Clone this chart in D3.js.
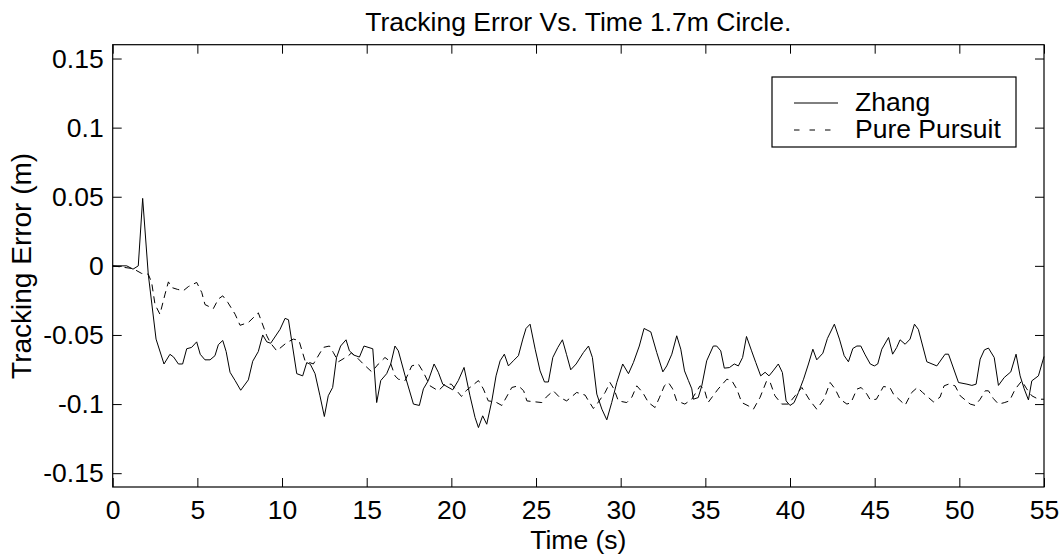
<!DOCTYPE html>
<html><head><meta charset="utf-8">
<script src="https://cdn.jsdelivr.net/npm/d3@7"></script>
<style>
body{margin:0;background:#fff}
text{font-family:Arial,"Liberation Sans",sans-serif;fill:#000}
</style>
</head><body>
<svg id="chart" width="1062" height="557"></svg>
<script>
const titleText = "Tracking Error Vs. Time 1.7m Circle.";
const xLabelText = "Time (s)";
const yLabelText = "Tracking Error (m)";
const seriesNames = ["Zhang", "Pure Pursuit"];
const xTicks = [0,5,10,15,20,25,30,35,40,45,50,55];
const yTicks = [-0.15,-0.1,-0.05,0,0.05,0.1,0.15];
const yTickLabels = ["-0.15","-0.1","-0.05","0","0.05","0.1","0.15"];

const zhangTime = [0,0.83,1.2,1.51,1.77,2.1,2.56,3.03,3.38,3.6,3.88,4.13,4.37,4.66,4.96,5.17,5.45,5.75,6.04,6.24,6.5,6.7,6.93,7.23,7.56,8.01,8.27,8.6,8.86,9.1,9.33,9.88,10.18,10.38,10.87,11.22,11.46,11.67,11.95,12.24,12.5,12.73,12.99,13.22,13.46,13.78,13.98,14.25,14.57,14.84,15.36,15.59,15.83,16.18,16.42,16.67,16.87,17.27,17.76,18.11,18.35,18.64,18.98,19.23,19.49,20.08,20.41,20.75,21.1,21.4,21.6,21.85,22.09,22.39,22.64,22.88,23.13,23.37,23.66,23.96,24.22,24.41,24.65,24.95,25.24,25.5,25.73,25.99,26.29,26.56,26.8,27.05,27.37,27.8,28.1,28.33,28.59,28.89,29.18,29.47,29.77,30.12,30.46,30.75,31.1,31.38,31.78,32.13,32.49,32.72,33.02,33.31,33.55,33.77,34.0,34.2,34.29,34.58,34.79,35.08,35.47,35.67,35.91,36.12,36.42,36.71,36.95,37.2,37.43,37.73,37.98,38.27,38.53,38.76,39.0,39.31,39.55,39.77,40.0,40.24,40.5,40.8,41.09,41.35,41.58,41.94,42.21,42.62,42.92,43.2,43.45,43.71,43.95,44.18,44.44,44.74,44.98,45.18,45.42,45.82,46.06,46.3,46.5,46.8,47.09,47.35,47.58,48.08,48.67,49.16,49.36,49.95,50.45,50.74,50.99,51.23,51.48,51.72,52.06,52.31,52.65,53.04,53.35,53.59,53.83,54.08,54.28,54.67,55.0];
const zhangError = [0,0,-0.0024,0,0.0488,-0.006,-0.053,-0.071,-0.064,-0.066,-0.071,-0.071,-0.060,-0.059,-0.055,-0.064,-0.068,-0.068,-0.065,-0.057,-0.054,-0.062,-0.077,-0.083,-0.090,-0.0825,-0.069,-0.062,-0.050,-0.055,-0.056,-0.046,-0.038,-0.039,-0.078,-0.0796,-0.070,-0.0712,-0.078,-0.094,-0.109,-0.094,-0.088,-0.0663,-0.058,-0.0535,-0.0615,-0.0646,-0.066,-0.058,-0.060,-0.0989,-0.083,-0.078,-0.071,-0.058,-0.0615,-0.0796,-0.100,-0.101,-0.089,-0.083,-0.071,-0.077,-0.0856,-0.0897,-0.083,-0.0735,-0.094,-0.1097,-0.117,-0.1085,-0.1146,-0.0977,-0.0796,-0.0687,-0.0639,-0.0724,-0.0687,-0.065,-0.053,-0.0453,-0.0422,-0.0603,-0.076,-0.084,-0.084,-0.0663,-0.059,-0.0535,-0.064,-0.0752,-0.071,-0.0627,-0.058,-0.0663,-0.0928,-0.1037,-0.1114,-0.0989,-0.0844,-0.071,-0.078,-0.070,-0.058,-0.0453,-0.0478,-0.0627,-0.0767,-0.0724,-0.0639,-0.0506,-0.0603,-0.076,-0.083,-0.089,-0.0965,-0.0953,-0.0868,-0.0687,-0.058,-0.058,-0.0615,-0.074,-0.0736,-0.071,-0.0724,-0.0663,-0.0511,-0.0615,-0.070,-0.0796,-0.077,-0.0796,-0.076,-0.071,-0.0772,-0.0977,-0.101,-0.099,-0.0916,-0.082,-0.071,-0.0603,-0.068,-0.0632,-0.0525,-0.0422,-0.053,-0.065,-0.0694,-0.0598,-0.058,-0.058,-0.0644,-0.071,-0.0724,-0.071,-0.0603,-0.0518,-0.0639,-0.0591,-0.0535,-0.0567,-0.053,-0.0422,-0.046,-0.0694,-0.0724,-0.0639,-0.0639,-0.0844,-0.0856,-0.0865,-0.0856,-0.0675,-0.0608,-0.0595,-0.0663,-0.0865,-0.0808,-0.0767,-0.0639,-0.0796,-0.089,-0.097,-0.0832,-0.0796,-0.0656];

const pursuitTime = [0,1.2,1.71,2.1,2.3,2.5,2.79,3.09,3.29,3.49,3.82,4.17,4.47,4.96,5.26,5.45,5.94,6.24,6.5,6.8,7.23,7.52,8.01,8.6,9.1,9.33,9.69,10.28,10.67,11.0,11.36,11.85,12.44,12.8,13.03,13.33,13.92,14.1,14.4,14.8,15.3,15.69,16.08,16.37,16.67,16.87,17.27,17.66,18.05,18.35,18.74,19.23,19.63,20.0,20.32,20.6,20.9,21.2,21.6,21.89,22.18,22.6,22.98,23.57,23.96,24.27,24.46,24.65,25.34,25.6,26.02,26.4,26.81,27.4,27.9,28.1,28.39,28.6,29.08,29.37,29.6,29.86,30.36,30.66,30.95,31.3,31.64,32.03,32.3,32.58,32.82,33.07,33.31,33.79,34.2,34.69,34.93,35.16,35.75,36.27,36.56,36.86,37.15,37.54,37.84,38.23,38.62,38.82,39.11,39.51,39.9,40.3,40.7,41.19,41.58,42.0,42.37,42.66,42.96,43.36,43.6,43.95,44.2,44.54,44.74,45.1,45.52,45.9,46.11,46.8,47.19,47.52,47.83,48.47,48.86,49.1,49.36,49.75,50.05,50.64,50.93,51.23,51.53,51.72,52.01,52.31,52.65,52.96,53.3,53.69,53.98,54.28,54.67,55.0];
const pursuitError = [0,-0.002,-0.0055,-0.006,-0.012,-0.028,-0.035,-0.0205,-0.0116,-0.0157,-0.017,-0.018,-0.015,-0.012,-0.0193,-0.028,-0.031,-0.024,-0.0217,-0.0265,-0.035,-0.043,-0.041,-0.034,-0.0506,-0.056,-0.0615,-0.0555,-0.053,-0.054,-0.0687,-0.071,-0.059,-0.058,-0.0627,-0.0694,-0.065,-0.063,-0.066,-0.071,-0.0767,-0.071,-0.0663,-0.069,-0.0796,-0.082,-0.083,-0.0724,-0.071,-0.077,-0.0868,-0.0904,-0.0856,-0.0856,-0.0904,-0.0945,-0.090,-0.087,-0.083,-0.089,-0.0977,-0.0984,-0.101,-0.088,-0.0868,-0.0904,-0.0977,-0.098,-0.0989,-0.095,-0.0904,-0.0952,-0.0977,-0.0916,-0.0935,-0.0977,-0.1032,-0.100,-0.0916,-0.0844,-0.089,-0.0977,-0.0989,-0.095,-0.0868,-0.0916,-0.0989,-0.1025,-0.095,-0.0868,-0.0844,-0.089,-0.0977,-0.100,-0.0965,-0.0868,-0.089,-0.0989,-0.0892,-0.082,-0.083,-0.0892,-0.0989,-0.1013,-0.1037,-0.0952,-0.0832,-0.084,-0.094,-0.100,-0.100,-0.094,-0.088,-0.0977,-0.1037,-0.0965,-0.0844,-0.089,-0.0965,-0.100,-0.099,-0.0892,-0.088,-0.0928,-0.097,-0.0965,-0.0873,-0.088,-0.0928,-0.1008,-0.0916,-0.088,-0.0916,-0.0984,-0.095,-0.0868,-0.0856,-0.0868,-0.094,-0.100,-0.101,-0.0965,-0.0904,-0.0904,-0.096,-0.100,-0.099,-0.0977,-0.0892,-0.0832,-0.089,-0.094,-0.0965,-0.0965];

const svg = d3.select("#chart");
const L = 112.7, R = 1044, T = 44.7, B = 487;
const FS = 26.5;
const x = d3.scaleLinear().domain([0,55]).range([L,R]);
const y = d3.scaleLinear().domain([-0.16,0.16]).range([B,T]);
const tickLen = 9;

// axes (ticks inward on all four sides)
const fmtY = d => yTickLabels[yTicks.indexOf(d)];
const axB = svg.append("g").attr("transform",`translate(0,${B})`)
  .call(d3.axisBottom(x).tickValues(xTicks).tickSizeInner(-tickLen).tickSizeOuter(0).tickPadding(13).tickFormat(d3.format("d")));
const axT = svg.append("g").attr("transform",`translate(0,${T})`)
  .call(d3.axisTop(x).tickValues(xTicks).tickSizeInner(-tickLen).tickSizeOuter(0).tickFormat(""));
const axL = svg.append("g").attr("transform",`translate(${L},0)`)
  .call(d3.axisLeft(y).tickValues(yTicks).tickSizeInner(-tickLen).tickSizeOuter(0).tickPadding(9).tickFormat(fmtY));
const axR = svg.append("g").attr("transform",`translate(${R},0)`)
  .call(d3.axisRight(y).tickValues(yTicks).tickSizeInner(-tickLen).tickSizeOuter(0).tickFormat(""));
[axB,axT,axL,axR].forEach(a=>{
  a.select(".domain").remove();
  a.selectAll("line").attr("stroke","#000").attr("stroke-width",1);
  a.selectAll("text").attr("font-size",FS).attr("font-family","Arial, 'Liberation Sans', sans-serif").attr("fill","#000");
});
svg.append("rect").attr("x",L).attr("y",T).attr("width",R-L).attr("height",B-T)
  .attr("fill","none").attr("stroke","#000").attr("stroke-width",1.2);

// lines
const line = d3.line().x(d=>x(d[0])).y(d=>y(d[1]));
const zhangData = zhangTime.map((t,i)=>[t,zhangError[i]]);
const pursuitData = pursuitTime.map((t,i)=>[t,pursuitError[i]]);
const plot = svg.append("g");
plot.append("path").datum(pursuitData).attr("d",line).attr("fill","none").attr("stroke","#000").attr("stroke-width",1).attr("stroke-dasharray","7,5");
plot.append("path").datum(zhangData).attr("d",line).attr("fill","none").attr("stroke","#000").attr("stroke-width",1);

// title & labels
svg.append("text").attr("x",(L+R)/2).attr("y",31).attr("text-anchor","middle").attr("font-size",FS).text(titleText);
svg.append("text").attr("x",(L+R)/2).attr("y",549).attr("text-anchor","middle").attr("font-size",FS).text(xLabelText);
svg.append("text").attr("transform",`translate(31,${(T+B)/2}) rotate(-90)`).attr("text-anchor","middle").attr("font-size",28).text(yLabelText);

// legend
const lg = svg.append("g");
lg.append("rect").attr("x",772).attr("y",77).attr("width",244).attr("height",70).attr("fill","#fff").attr("stroke","#000").attr("stroke-width",1.2);
const dashes = [null,"5.5,10"];
seriesNames.forEach((n,i)=>{
  const yy = 103 + i*27;
  lg.append("line").attr("x1",794).attr("x2",838).attr("y1",yy).attr("y2",yy).attr("stroke","#000").attr("stroke-width",1).attr("stroke-dasharray",dashes[i]);
  lg.append("text").attr("x",855).attr("y",yy+8).attr("font-size",FS).text(n);
});
</script>
</body></html>
